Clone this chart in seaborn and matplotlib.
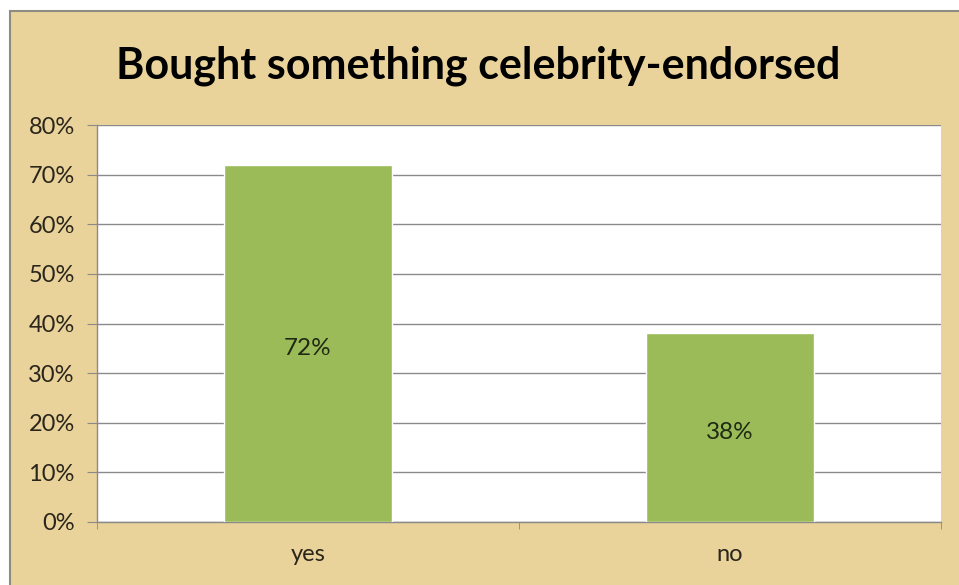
import matplotlib
matplotlib.use('Agg')
import matplotlib.pyplot as plt
import matplotlib.patches as mpatches
from matplotlib.ticker import FuncFormatter, FixedLocator
import seaborn as sns
import pandas as pd

# Chart data
answers = ['yes', 'no']
shares = [0.72, 0.38]
value_labels = ['72%', '38%']
y_ticks = [0.0, 0.1, 0.2, 0.3, 0.4, 0.5, 0.6, 0.7, 0.8]

sns.set_style('white')
plt.rcParams['font.family'] = ['Lato', 'DejaVu Sans']

df = pd.DataFrame({'answer': answers, 'share': shares})

W, H = 959, 585
fig = plt.figure(figsize=(W / 100, H / 100), dpi=100)
fig.patch.set_facecolor('white')

# parchment-coloured chart area with a thin grey frame
bg = mpatches.Rectangle((10 / W, -0.01), 1, 1.01 - 11 / H, transform=fig.transFigure,
                        facecolor='#E9D39A', edgecolor='#8C8C80', linewidth=1.5,
                        zorder=-5)
fig.add_artist(bg)

ax = fig.add_axes([97 / W, 1 - 522 / H, (941 - 97) / W, (522 - 125) / H])
ax.set_zorder(1)
ax.set_facecolor('white')

sns.barplot(data=df, x='answer', y='share', color='#9BBB59', width=0.4,
            saturation=1, ax=ax, zorder=3)

ax.set_xlim(-0.5, 1.5)
ax.set_ylim(0, 0.8)
ax.set_yticks(y_ticks)
ax.yaxis.set_major_formatter(FuncFormatter(lambda v, p: f'{v * 100:.0f}%'))
ax.grid(axis='y', color='#8A8A8A', linewidth=1, zorder=1)
ax.set_axisbelow(True)

for s in ['top', 'right']:
    ax.spines[s].set_visible(False)
for s in ['left', 'bottom']:
    ax.spines[s].set_color('#8A8A8A')
    ax.spines[s].set_linewidth(1)

ax.tick_params(axis='y', direction='out', length=7, color='#8A8A8A',
               labelsize=17, labelcolor='#2B261C', pad=9, left=True)
ax.tick_params(axis='x', which='major', length=0, labelsize=17,
               labelcolor='#2B261C', pad=16)
ax.xaxis.set_minor_locator(FixedLocator([-0.5, 0.5, 1.5]))
ax.tick_params(axis='x', which='minor', direction='out', length=5,
               color='#8A8A8A', bottom=True)

ax.set_xlabel('')
ax.set_ylabel('')

for bar, lab in zip(ax.patches, value_labels):
    ax.text(bar.get_x() + bar.get_width() / 2, bar.get_height() / 2 - 0.01, lab,
            ha='center', va='center', fontsize=17.5, color='#1F2A12', zorder=4)

fig.text(478 / W, 1 - 66 / H, 'Bought something celebrity-endorsed',
         ha='center', va='center', fontsize=31, fontweight='bold',
         color='black')

fig.savefig('out.png', dpi=100, facecolor=fig.get_facecolor())
